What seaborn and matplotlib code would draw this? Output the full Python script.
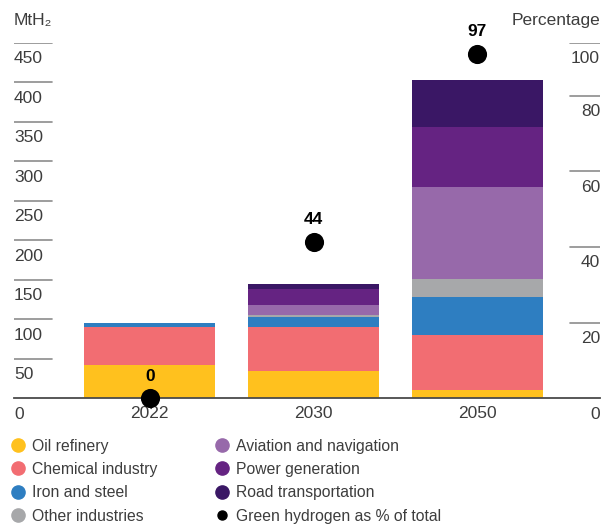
import numpy as np
import pandas as pd
import matplotlib.pyplot as plt
from matplotlib.lines import Line2D
import seaborn as sns

sns.set_style('white')
plt.rcParams['font.family'] = ['Liberation Sans', 'DejaVu Sans']

# data (MtH2 by end use)
years = ['2022', '2030', '2050']
sectors = ['Oil refinery', 'Chemical industry', 'Iron and steel', 'Other industries',
           'Aviation and navigation', 'Power generation', 'Road transportation']
oil = [42, 35, 10]
chemical = [48, 55, 70]
iron = [6, 12.5, 48]
other = [0, 3.5, 23]
aviation = [0, 12, 116]
power = [0, 21, 76]
road = [0, 5.5, 60]
green_pct = [0, 44, 97]

left_ticks = [0, 50, 100, 150, 200, 250, 300, 350, 400, 450]
right_ticks = [0, 20, 40, 60, 80, 100]

colors = ['#FFC11E', '#F26D72', '#2E7EC1', '#A7A8AA', '#9769AA', '#652382', '#3A1765']
text_col = '#3d3d3d'
line_col = '#8c8c8c'

df = pd.DataFrame(dict(zip(sectors, [oil, chemical, iron, other, aviation, power, road])))
cum = df.cumsum(axis=1).where(df > 0)
cum['Year'] = years

W, H = 609, 525
fig = plt.figure(figsize=(W / 100, H / 100), dpi=100)
ax = fig.add_axes([14 / W, 1 - 398.3 / H, 586 / W, (398.3 - 43) / H])

# stacked bars: draw cumulative totals from top segment down
for name, c in reversed(list(zip(sectors, colors))):
    sns.barplot(data=cum, x='Year', y=name, color=c, saturation=1, width=0.8,
                errorbar=None, linewidth=0, ax=ax)

ax.set_ylim(0, 450)
ax.set_xlim(-0.83, 2.75)
ax.set_xlabel('')
ax.set_ylabel('')
ax.set_yticks([])
ax.tick_params(axis='x', length=0, pad=5.5, labelsize=12.5, labelcolor=text_col)
for s in ['left', 'right', 'top']:
    ax.spines[s].set_visible(False)
ax.spines['bottom'].set_color('#4a4a4a')
ax.spines['bottom'].set_linewidth(1.3)

# green hydrogen share: 100 % sits on the 450 line
scale = 450 / 100
xs = np.arange(len(years))
ys = np.array(green_pct) * scale
sns.scatterplot(x=xs, y=ys, color='black', s=190, linewidth=0, ax=ax,
                zorder=6, clip_on=False, legend=False)
for x, p, y in zip(xs, green_pct, ys):
    ax.annotate(str(p), (x, y), xytext=(0, 16), textcoords='offset points',
                ha='center', va='center', fontsize=12.5, fontweight='bold',
                color='black', annotation_clip=False)

# left scale
for t in left_ticks:
    if t > 0:
        ax.axhline(t, xmin=0, xmax=38 / 586, color=line_col, lw=1.2)
    ax.annotate(str(t), (0, t), xycoords=('axes fraction', 'data'),
                xytext=(0, -6), textcoords='offset points', ha='left', va='top',
                fontsize=12.5, color=text_col, annotation_clip=False)

# right scale (percentage)
ax2 = ax.twinx()
ax2.set_ylim(0, 450 / 4.79)
ax2.set_yticks([])
for s in ax2.spines.values():
    s.set_visible(False)
top = ax2.get_ylim()[1]
for t in right_ticks:
    pos = min(t, top)
    if t > 0:
        ax2.axhline(pos, xmin=(570 - 14) / 586, xmax=1, color=line_col, lw=1.2)
    ax2.annotate(str(t), (1, pos), xycoords=('axes fraction', 'data'),
                 xytext=(0, -6), textcoords='offset points', ha='right', va='top',
                 fontsize=12.5, color=text_col, annotation_clip=False)

fig.text(14 / W, 1 - 24.5 / H, 'MtH₂', ha='left', va='baseline', fontsize=12.5, color=text_col)
fig.text(600 / W, 1 - 24.5 / H, 'Percentage', ha='right', va='baseline', fontsize=12.5, color=text_col)

# legend in two columns
handles = [Line2D([], [], marker='o', ls='', color=c, markersize=9.5) for c in colors]
handles.append(Line2D([], [], marker='o', ls='', color='black', markersize=6.5))
labels = sectors + ['Green hydrogen as % of total']
leg_kw = dict(loc='upper left', frameon=False, fontsize=11.3, borderpad=0, borderaxespad=0,
              handlelength=0.8, handletextpad=0.5, labelspacing=0.54, labelcolor=text_col)
fig.legend(handles[:4], labels[:4], bbox_to_anchor=(11.9 / W, 1 - 438.5 / H), **leg_kw)
fig.legend(handles[4:], labels[4:], bbox_to_anchor=(215.9 / W, 1 - 438.5 / H), **leg_kw)

fig.savefig('out.png', dpi=100)
